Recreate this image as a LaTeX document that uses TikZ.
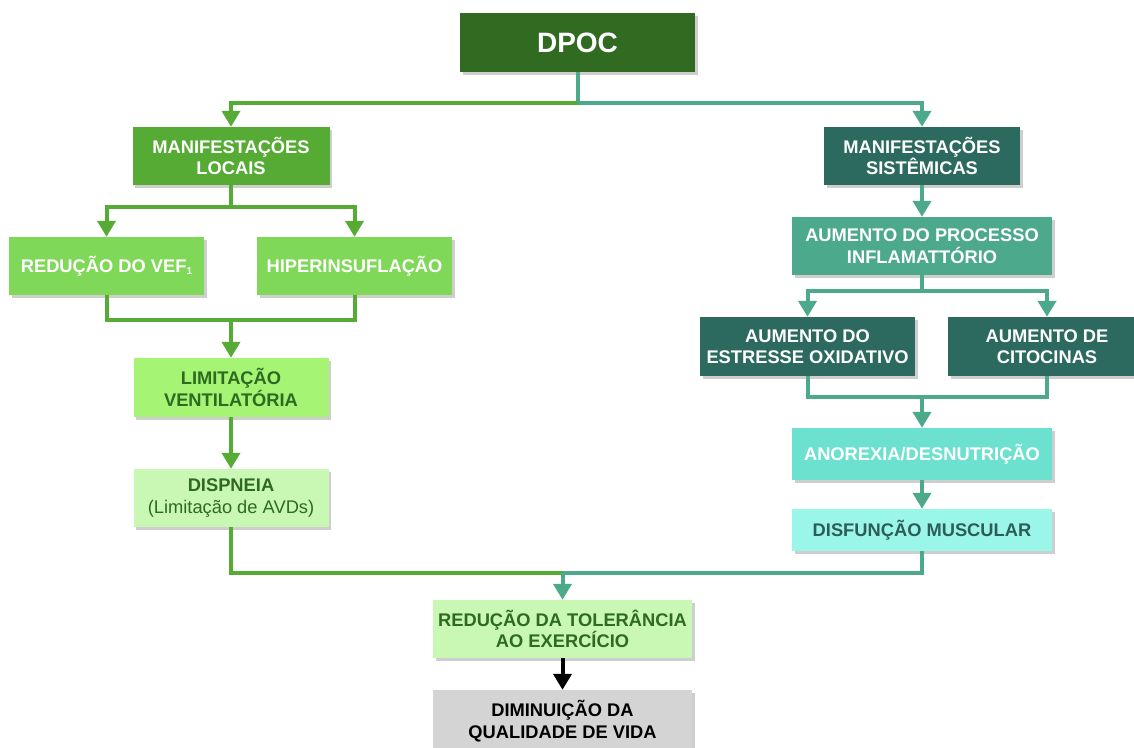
\documentclass[tikz,border=0pt]{standalone}
\usepackage{fontspec}
\setmainfont{Liberation Sans}
\usetikzlibrary{arrows.meta,shadows}

\definecolor{dpocgreen}{HTML}{316B22}
\definecolor{locgreen}{HTML}{55AB33}
\definecolor{lightgreen}{HTML}{80D858}
\definecolor{limgreen}{HTML}{A5F474}
\definecolor{palegreen}{HTML}{C8F8B4}
\definecolor{txtgreen}{HTML}{2E6A21}
\definecolor{darkteal}{HTML}{2C6A60}
\definecolor{midteal}{HTML}{4DA98C}
\definecolor{brightteal}{HTML}{6DE1CF}
\definecolor{paleteal}{HTML}{9BF6EA}
\definecolor{txtteal}{HTML}{2C5E57}
\definecolor{softgray}{HTML}{D4D4D4}

\tikzset{
  box/.style={rectangle, inner sep=0pt, align=center,
    font=\fontsize{18.3}{21.5}\selectfont\bfseries,
    drop shadow={shadow xshift=2.5pt, shadow yshift=-2.5pt, opacity=0.35, fill=black!55}},
  tip/.style={-{Triangle[width=18pt,length=16pt]}},
  gline/.style={draw=locgreen, line width=4pt},
  tline/.style={draw=midteal, line width=4pt},
  kline/.style={draw=black, line width=4pt},
}

\begin{document}
\begin{tikzpicture}[x=1pt, y=-1pt]
\useasboundingbox (0,0) rectangle (1134,747);

% top of the chart
\node[box, fill=dpocgreen, text=white, minimum width=235pt, minimum height=59pt,
      font=\fontsize{28}{32}\selectfont\bfseries] (dpoc) at (577.5,42.5) {DPOC};

% local branch
\node[box, fill=locgreen, text=white, minimum width=197pt, minimum height=58pt] (loc) at (231,156) {MANIFESTAÇÕES\\LOCAIS};
\node[box, fill=lightgreen, text=white, minimum width=195pt, minimum height=58pt] (vef) at (106.5,266)
  {REDUÇÃO DO VEF\raisebox{-0.2ex}{\fontsize{10}{10}\selectfont 1}};
\node[box, fill=lightgreen, text=white, minimum width=195pt, minimum height=58pt] (hip) at (354.5,266) {HIPERINSUFLAÇÃO};
\node[box, fill=limgreen, text=txtgreen, minimum width=195pt, minimum height=59pt] (lim) at (231,387.5) {LIMITAÇÃO\\VENTILATÓRIA};
\node[box, fill=palegreen, text=txtgreen, minimum width=195pt, minimum height=58pt] (disp) at (231,498)
  {DISPNEIA\\{\mdseries(Limitação de AVDs)}};

% systemic branch
\node[box, fill=darkteal, text=white, minimum width=196pt, minimum height=58pt] (sis) at (922,156) {MANIFESTAÇÕES\\SISTÊMICAS};
\node[box, fill=midteal, text=white, minimum width=260pt, minimum height=58pt] (infl) at (922,246) {AUMENTO DO PROCESSO\\INFLAMATTÓRIO};
\node[box, fill=darkteal, text=white, minimum width=215pt, minimum height=59pt] (oxi) at (807.5,346.5) {AUMENTO DO\\ESTRESSE OXIDATIVO};
\node[box, fill=darkteal, text=white, minimum width=198pt, minimum height=59pt] (cit) at (1047,346.5) {AUMENTO DE\\CITOCINAS};
\node[box, fill=brightteal, text=white, minimum width=260pt, minimum height=52pt] (ano) at (922,454) {ANOREXIA/DESNUTRIÇÃO};
\node[box, fill=paleteal, text=txtteal, minimum width=260pt, minimum height=42pt] (mus) at (922,530) {DISFUNÇÃO MUSCULAR};

% outcome
\node[box, fill=palegreen, text=txtgreen, minimum width=259pt, minimum height=58pt] (tol) at (562.5,629) {REDUÇÃO DA TOLERÂNCIA\\AO EXERCÍCIO};
\node[box, fill=softgray, text=black, minimum width=259pt, minimum height=62pt] (qv) at (562.5,721) {DIMINUIÇÃO DA\\QUALIDADE DE VIDA};

% junction points
\coordinate (jtop) at (577.5,103);
\coordinate (jl1) at (231,207);
\coordinate (jl2) at (231,320);
\coordinate (jr1) at (922,291);
\coordinate (jr2) at (922,397);
\coordinate (jbot) at (562.5,573);

% connectors from DPOC
\draw[tline] (dpoc.south) -- (jtop);
\draw[gline, tip] (jtop) -| (loc.north);
\draw[tline, tip] (jtop) -| (sis.north);

% local connectors
\draw[gline] (loc.south) -- (jl1);
\draw[gline, tip] (jl1) -| (vef.north);
\draw[gline, tip] (jl1) -| (hip.north);
\draw[gline] (vef.south) |- (jl2);
\draw[gline] (hip.south) |- (jl2);
\draw[gline, tip] (jl2) -- (lim.north);
\draw[gline, tip] (lim.south) -- (disp.north);

% systemic connectors
\draw[tline, tip] (sis.south) -- (infl.north);
\draw[tline] (infl.south) -- (jr1);
\draw[tline, tip] (jr1) -| (oxi.north);
\draw[tline, tip] (jr1) -| (cit.north);
\draw[tline] (oxi.south) |- (jr2);
\draw[tline] (cit.south) |- (jr2);
\draw[tline, tip] (jr2) -- (ano.north);
\draw[tline, tip] (ano.south) -- (mus.north);

% merging into the outcome
\draw[gline] (disp.south) |- (jbot);
\draw[tline] (mus.south) |- (jbot);
\draw[tline, tip] (jbot) -- (tol.north);
\draw[kline, tip] (tol.south) -- (qv.north);
\end{tikzpicture}
\end{document}
